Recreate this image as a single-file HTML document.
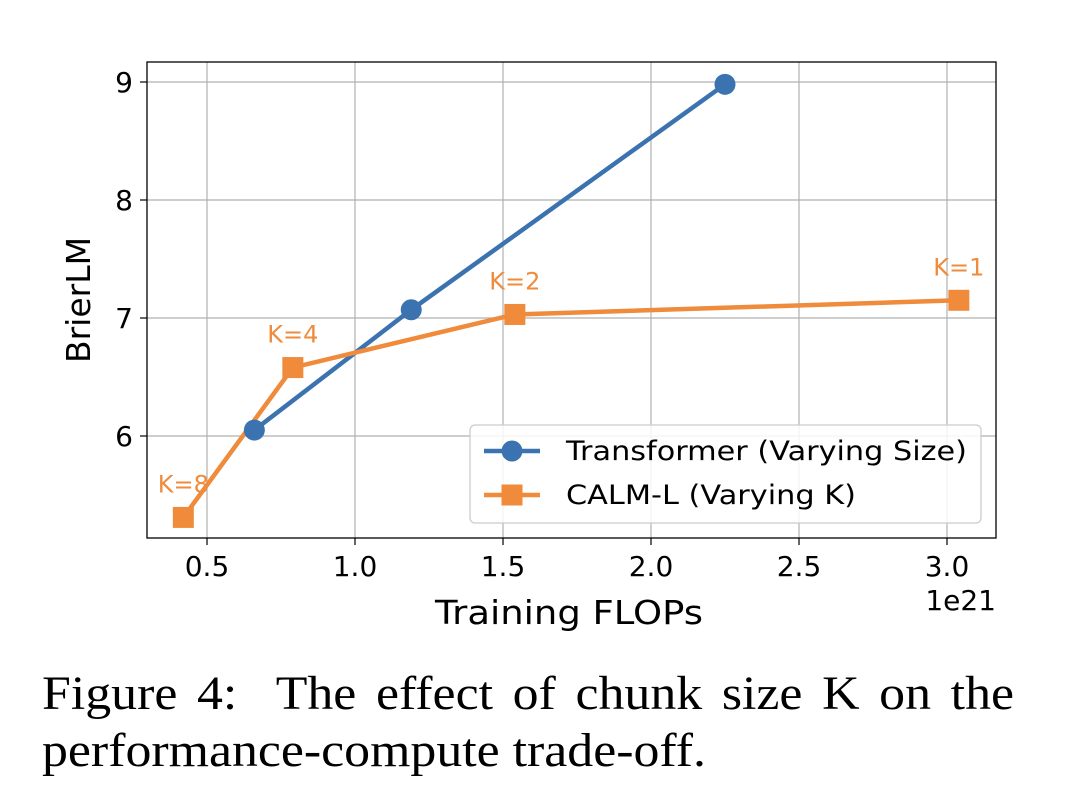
<!DOCTYPE html>
<html><head><meta charset="utf-8"><style>
body{margin:0;background:#fff;width:1066px;height:810px;overflow:hidden;position:relative}
svg{position:absolute;left:0;top:0}
.cap{position:absolute;left:42px;width:900px;font-family:"Liberation Serif",serif;font-size:48px;color:#000;text-align:justify;text-align-last:justify;white-space:nowrap;transform-origin:0 0;transform:scaleX(1.08)}
</style></head><body>
<svg id="chart" width="1066" height="650" font-family="DejaVu Sans, Liberation Sans, sans-serif"></svg>
<div class="cap" style="top:666px">Figure 4:&nbsp; The effect of chunk size K on the</div>
<div class="cap" style="top:723px;text-align:left;text-align-last:left">performance-compute trade-off.</div>
<script>
const xTicks=[0.5,1.0,1.5,2.0,2.5,3.0];
const yTicks=[6,7,8,9];
const tfX=[0.66,1.19,2.25];
const tfY=[6.05,7.07,8.98];
const calmX=[0.42,0.79,1.54,3.04];
const calmY=[5.31,6.58,7.03,7.15];
const calmLabels=["K=8","K=4","K=2","K=1"];
const L=147,R=996,T=62,B=538;
const sx=v=>59+v*296, sy=v=>436-(v-6)*118;
const svg=document.getElementById('chart');
const NS='http://www.w3.org/2000/svg';
function mk(tag,attrs,parent){const e=document.createElementNS(NS,tag);for(const k in attrs)e.setAttribute(k,attrs[k]);(parent||svg).appendChild(e);return e;}
const blue='#3b73b0',orange='#ef8b3b';
xTicks.forEach(t=>{const x=sx(t);
 const g=mk('line',{x1:x,x2:x,y1:T,y2:B,stroke:'#b0b0b0','stroke-width':1.2});
 mk('line',{x1:x,x2:x,y1:B,y2:B+7,stroke:'#000','stroke-width':1.2});
 const tx=mk('text',{x:x,y:B+38,'font-size':28,'text-anchor':'middle'});tx.textContent=t.toFixed(1);});
yTicks.forEach(t=>{const y=sy(t);
 const g=mk('line',{x1:L,x2:R,y1:y,y2:y,stroke:'#b0b0b0','stroke-width':1.2});
 mk('line',{x1:L-7,x2:L,y1:y,y2:y,stroke:'#000','stroke-width':1.2});
 const tx=mk('text',{x:L-14,y:y+10,'font-size':28,'text-anchor':'end'});tx.textContent=t;});
const fr=mk('rect',{x:L,y:T,width:R-L,height:B-T,fill:'none',stroke:'#000','stroke-width':1.3});

const tl=mk('polyline',{points:tfX.map((v,i)=>sx(v)+','+sy(tfY[i])).join(' '),fill:'none',stroke:blue,'stroke-width':4.5});

const cl=mk('polyline',{points:calmX.map((v,i)=>sx(v)+','+sy(calmY[i])).join(' '),fill:'none',stroke:orange,'stroke-width':4.5});

tfX.forEach((v,i)=>{const c=mk('circle',{cx:sx(v),cy:sy(tfY[i]),r:10.5,fill:blue});});
calmX.forEach((v,i)=>{const s=mk('rect',{x:sx(v)-10.5,y:sy(calmY[i])-10.5,width:21,height:21,fill:orange});
 const t=mk('text',{x:sx(v),y:sy(calmY[i])-25,'font-size':24,'text-anchor':'middle',fill:orange});t.textContent=calmLabels[i];});
const lg=mk('g',{});
mk('rect',{x:470,y:425,width:511,height:98,rx:5,fill:'#fff','fill-opacity':0.85,stroke:'#ccc','stroke-width':1.3},lg);
mk('line',{x1:484,x2:540,y1:451,y2:451,stroke:blue,'stroke-width':4.5},lg);
mk('circle',{cx:512,cy:451,r:10.5,fill:blue},lg);
const t1=mk('text',{x:566,y:460,'font-size':26.5,textLength:401,lengthAdjust:'spacingAndGlyphs'},lg);t1.textContent='Transformer (Varying Size)';
mk('line',{x1:484,x2:540,y1:495,y2:495,stroke:orange,'stroke-width':4.5},lg);
mk('rect',{x:501.5,y:484.5,width:21,height:21,fill:orange},lg);
const t2=mk('text',{x:566,y:504,'font-size':26.5,textLength:290,lengthAdjust:'spacingAndGlyphs'},lg);t2.textContent='CALM-L (Varying K)';
const xl=mk('text',{x:569,y:624,'font-size':33,'text-anchor':'middle',textLength:268,lengthAdjust:'spacingAndGlyphs'});xl.textContent='Training FLOPs';
const off=mk('text',{x:996,y:610,'font-size':28,'text-anchor':'end'});off.textContent='1e21';
const yl=mk('text',{x:0,y:0,'font-size':33,'text-anchor':'middle',transform:'translate(90,300) rotate(-90)'});yl.textContent='BrierLM';
</script>
</body></html>
